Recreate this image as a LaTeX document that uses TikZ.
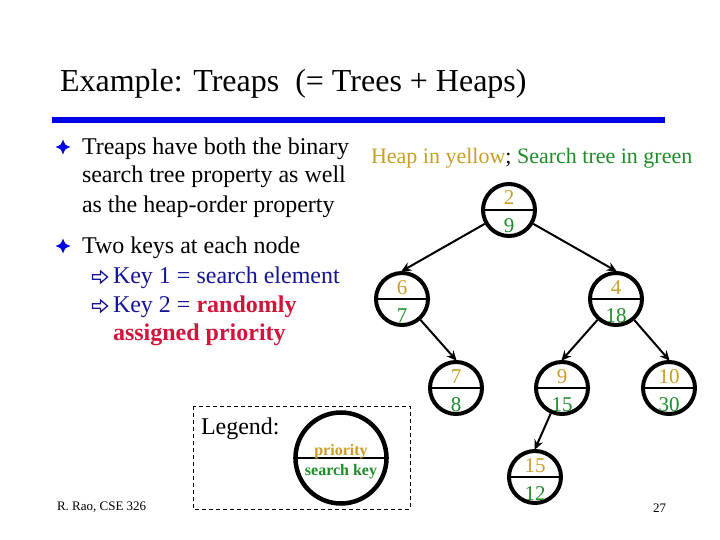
\documentclass[tikz,border=0pt]{standalone}
\usepackage{fontspec}
\setmainfont{Liberation Serif}
\usetikzlibrary{arrows.meta}
\definecolor{yel}{RGB}{200,158,40}
\definecolor{grn}{RGB}{30,140,40}
\definecolor{redk}{RGB}{210,20,60}
\definecolor{navy}{RGB}{20,20,150}
\definecolor{rule}{RGB}{0,0,230}
\newcommand{\fs}[1]{\fontsize{#1}{#1}\selectfont}
\newcommand{\treapnode}[4]{%
  \node[tcirc] (#1) at (#2) {};
  \draw[divline] (#1.west) -- (#1.east);
  \node[txt, anchor=base, text=yel] (#1-t) at ([yshift=5pt]#1.center) {\fs{21}#3};
  \node[txt, anchor=base, text=grn] (#1-b) at ([yshift=-23pt]#1.center) {\fs{21}#4};
}
\begin{document}
\begin{tikzpicture}[x=1pt,y=-1pt,
  txt/.style={inner sep=0pt, outer sep=0pt},
  line/.style={txt, anchor=base west},
  tcirc/.style={circle, draw=black, line width=4pt, minimum size=52pt, inner sep=0pt},
  divline/.style={line width=1.3pt},
  arr/.style={line width=2pt, -{Stealth[length=10pt,width=9pt]}, shorten >=-1pt},
  starbul/.pic={\fill[rule] (0,-7.5) .. controls (2,-2) .. (7.5,0) .. controls (2,2) .. (0,7.5) .. controls (-2,2) .. (-7.5,0) .. controls (-2,-2) .. (0,-7.5) -- cycle;},
  arrbul/.pic={\draw[navy, line width=1.3pt, fill=white, line join=miter] (-7.5,-2.3) -- (0.5,-2.3) -- (0.5,-6) -- (7.5,0) -- (0.5,6) -- (0.5,2.3) -- (-7.5,2.3) -- cycle;}]
\useasboundingbox (0,0) rectangle (720,540);
% title
\node[line] (title) at (60,92) {\fs{32}Example: Treaps\ \ (= Trees + Heaps)};
\fill[rule] (52,117) rectangle (665,123);
% bullets
\pic at (63,147) {starbul};
\pic at (63,246) {starbul};
\node[line] (b1a) at (82,155) {\fs{24}Treaps have both the binary};
\node[line] (b1b) at (82,183) {\fs{24}search tree property as well};
\node[line] (b1c) at (82,212) {\fs{24}as the heap-order property};
\node[line] (b2a) at (82,253) {\fs{24}Two keys at each node};
\pic at (100,277) {arrbul};
\pic at (100,306) {arrbul};
\node[line, text=navy] (k1) at (113,283) {\fs{24}Key 1 = search element};
\node[line, text=navy] (k2) at (113,312) {\fs{24}Key 2 = \textcolor{redk}{\bfseries randomly}};
\node[line, text=redk] (k3) at (113,340) {\fs{24}\bfseries assigned priority};
% heading right
\node[line] (heap) at (371,164) {\fs{22}\textcolor{yel}{Heap in yellow}; \textcolor{grn}{Search tree in green}};
% tree
\treapnode{n2}{509,210}{2}{9}
\treapnode{n6}{402,299}{6}{7}
\treapnode{n4}{616,299}{4}{18}
\treapnode{n7}{456,388}{7}{8}
\treapnode{n9}{562,388}{9}{15}
\treapnode{n10}{669,388}{10}{30}
\treapnode{n15}{535,477}{15}{12}
\draw[arr] (n2) -- (n6.north);
\draw[arr] (n2) -- (n4.north);
\draw[arr] (n6) -- (n7.north);
\draw[arr] (n4) -- (n9.north);
\draw[arr] (n4) -- (n10.north);
\draw[arr] (n9) -- (n15.north);
% legend
\draw[line width=1pt, dash pattern=on 4pt off 3pt] (193,406) rectangle (410,509);
\node[line] (leg) at (201,434) {\fs{24}Legend:};
\node[circle, draw=black, line width=4.5pt, minimum size=91pt, inner sep=0pt] (lc) at (341,458) {};
\draw[divline] (lc.west) -- (lc.east);
\node[txt, anchor=base, text=yel] (lct) at ([yshift=3pt]lc.center) {\fs{16}\bfseries priority};
\node[txt, anchor=base, text=grn] (lcb) at ([yshift=-17pt]lc.center) {\fs{16}\bfseries search key};
% footer
\node[line] (foot) at (57,510) {\fs{13}R. Rao, CSE 326};
\node[line] (pg) at (653,512) {\fs{13}27};
\end{tikzpicture}
\end{document}
